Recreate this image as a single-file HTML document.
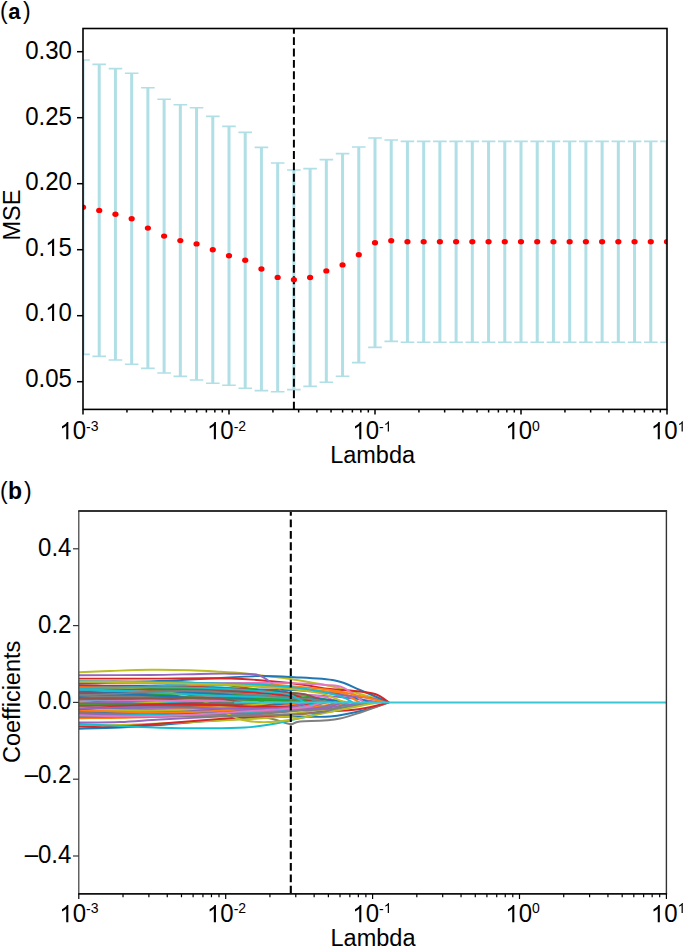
<!DOCTYPE html>
<html><head><meta charset="utf-8"><title>LASSO</title><style>
html,body{margin:0;padding:0;background:#fff;}
body{width:685px;height:948px;overflow:hidden;}
svg{display:block;}
text{font-family:"Liberation Sans", sans-serif;fill:#000;}
</style></head><body>
<svg width="685" height="948" viewBox="0 0 685 948">
<rect width="685" height="948" fill="#fff"/>
<defs><clipPath id="ca"><rect x="83.0" y="28.5" width="584.0" height="380.9"/></clipPath>
<clipPath id="cb"><rect x="78.8" y="511.0" width="587.6" height="382.9"/></clipPath></defs>
<g clip-path="url(#ca)">
<path d="M83.00 60.00V354.40" stroke="#b0dfe6" stroke-width="3.0" fill="none"/>
<path d="M76.20 60.00H89.80M76.20 354.40H89.80" stroke="#b0dfe6" stroke-width="1.6" fill="none"/>
<path d="M99.22 64.40V356.40" stroke="#b0dfe6" stroke-width="3.0" fill="none"/>
<path d="M92.42 64.40H106.02M92.42 356.40H106.02" stroke="#b0dfe6" stroke-width="1.6" fill="none"/>
<path d="M115.44 68.60V360.00" stroke="#b0dfe6" stroke-width="3.0" fill="none"/>
<path d="M108.64 68.60H122.24M108.64 360.00H122.24" stroke="#b0dfe6" stroke-width="1.6" fill="none"/>
<path d="M131.67 73.20V364.20" stroke="#b0dfe6" stroke-width="3.0" fill="none"/>
<path d="M124.87 73.20H138.47M124.87 364.20H138.47" stroke="#b0dfe6" stroke-width="1.6" fill="none"/>
<path d="M147.89 87.80V368.40" stroke="#b0dfe6" stroke-width="3.0" fill="none"/>
<path d="M141.09 87.80H154.69M141.09 368.40H154.69" stroke="#b0dfe6" stroke-width="1.6" fill="none"/>
<path d="M164.11 99.20V373.00" stroke="#b0dfe6" stroke-width="3.0" fill="none"/>
<path d="M157.31 99.20H170.91M157.31 373.00H170.91" stroke="#b0dfe6" stroke-width="1.6" fill="none"/>
<path d="M180.33 104.80V376.40" stroke="#b0dfe6" stroke-width="3.0" fill="none"/>
<path d="M173.53 104.80H187.13M173.53 376.40H187.13" stroke="#b0dfe6" stroke-width="1.6" fill="none"/>
<path d="M196.56 107.80V380.00" stroke="#b0dfe6" stroke-width="3.0" fill="none"/>
<path d="M189.76 107.80H203.36M189.76 380.00H203.36" stroke="#b0dfe6" stroke-width="1.6" fill="none"/>
<path d="M212.78 116.40V383.20" stroke="#b0dfe6" stroke-width="3.0" fill="none"/>
<path d="M205.98 116.40H219.58M205.98 383.20H219.58" stroke="#b0dfe6" stroke-width="1.6" fill="none"/>
<path d="M229.00 126.40V385.20" stroke="#b0dfe6" stroke-width="3.0" fill="none"/>
<path d="M222.20 126.40H235.80M222.20 385.20H235.80" stroke="#b0dfe6" stroke-width="1.6" fill="none"/>
<path d="M245.22 132.40V388.20" stroke="#b0dfe6" stroke-width="3.0" fill="none"/>
<path d="M238.42 132.40H252.02M238.42 388.20H252.02" stroke="#b0dfe6" stroke-width="1.6" fill="none"/>
<path d="M261.44 147.40V390.60" stroke="#b0dfe6" stroke-width="3.0" fill="none"/>
<path d="M254.64 147.40H268.24M254.64 390.60H268.24" stroke="#b0dfe6" stroke-width="1.6" fill="none"/>
<path d="M277.67 163.00V391.80" stroke="#b0dfe6" stroke-width="3.0" fill="none"/>
<path d="M270.87 163.00H284.47M270.87 391.80H284.47" stroke="#b0dfe6" stroke-width="1.6" fill="none"/>
<path d="M293.89 170.00V389.60" stroke="#b0dfe6" stroke-width="3.0" fill="none"/>
<path d="M287.09 170.00H300.69M287.09 389.60H300.69" stroke="#b0dfe6" stroke-width="1.6" fill="none"/>
<path d="M310.11 168.60V386.40" stroke="#b0dfe6" stroke-width="3.0" fill="none"/>
<path d="M303.31 168.60H316.91M303.31 386.40H316.91" stroke="#b0dfe6" stroke-width="1.6" fill="none"/>
<path d="M326.33 159.60V382.20" stroke="#b0dfe6" stroke-width="3.0" fill="none"/>
<path d="M319.53 159.60H333.13M319.53 382.20H333.13" stroke="#b0dfe6" stroke-width="1.6" fill="none"/>
<path d="M342.56 153.60V376.20" stroke="#b0dfe6" stroke-width="3.0" fill="none"/>
<path d="M335.76 153.60H349.36M335.76 376.20H349.36" stroke="#b0dfe6" stroke-width="1.6" fill="none"/>
<path d="M358.78 147.00V362.60" stroke="#b0dfe6" stroke-width="3.0" fill="none"/>
<path d="M351.98 147.00H365.58M351.98 362.60H365.58" stroke="#b0dfe6" stroke-width="1.6" fill="none"/>
<path d="M375.00 138.00V347.40" stroke="#b0dfe6" stroke-width="3.0" fill="none"/>
<path d="M368.20 138.00H381.80M368.20 347.40H381.80" stroke="#b0dfe6" stroke-width="1.6" fill="none"/>
<path d="M391.22 140.00V341.40" stroke="#b0dfe6" stroke-width="3.0" fill="none"/>
<path d="M384.42 140.00H398.02M384.42 341.40H398.02" stroke="#b0dfe6" stroke-width="1.6" fill="none"/>
<path d="M407.44 141.40V342.20" stroke="#b0dfe6" stroke-width="3.0" fill="none"/>
<path d="M400.64 141.40H414.24M400.64 342.20H414.24" stroke="#b0dfe6" stroke-width="1.6" fill="none"/>
<path d="M423.67 141.40V342.20" stroke="#b0dfe6" stroke-width="3.0" fill="none"/>
<path d="M416.87 141.40H430.47M416.87 342.20H430.47" stroke="#b0dfe6" stroke-width="1.6" fill="none"/>
<path d="M439.89 141.40V342.20" stroke="#b0dfe6" stroke-width="3.0" fill="none"/>
<path d="M433.09 141.40H446.69M433.09 342.20H446.69" stroke="#b0dfe6" stroke-width="1.6" fill="none"/>
<path d="M456.11 141.40V342.20" stroke="#b0dfe6" stroke-width="3.0" fill="none"/>
<path d="M449.31 141.40H462.91M449.31 342.20H462.91" stroke="#b0dfe6" stroke-width="1.6" fill="none"/>
<path d="M472.33 141.40V342.20" stroke="#b0dfe6" stroke-width="3.0" fill="none"/>
<path d="M465.53 141.40H479.13M465.53 342.20H479.13" stroke="#b0dfe6" stroke-width="1.6" fill="none"/>
<path d="M488.56 141.40V342.20" stroke="#b0dfe6" stroke-width="3.0" fill="none"/>
<path d="M481.76 141.40H495.36M481.76 342.20H495.36" stroke="#b0dfe6" stroke-width="1.6" fill="none"/>
<path d="M504.78 141.40V342.20" stroke="#b0dfe6" stroke-width="3.0" fill="none"/>
<path d="M497.98 141.40H511.58M497.98 342.20H511.58" stroke="#b0dfe6" stroke-width="1.6" fill="none"/>
<path d="M521.00 141.40V342.20" stroke="#b0dfe6" stroke-width="3.0" fill="none"/>
<path d="M514.20 141.40H527.80M514.20 342.20H527.80" stroke="#b0dfe6" stroke-width="1.6" fill="none"/>
<path d="M537.22 141.40V342.20" stroke="#b0dfe6" stroke-width="3.0" fill="none"/>
<path d="M530.42 141.40H544.02M530.42 342.20H544.02" stroke="#b0dfe6" stroke-width="1.6" fill="none"/>
<path d="M553.44 141.40V342.20" stroke="#b0dfe6" stroke-width="3.0" fill="none"/>
<path d="M546.64 141.40H560.24M546.64 342.20H560.24" stroke="#b0dfe6" stroke-width="1.6" fill="none"/>
<path d="M569.67 141.40V342.20" stroke="#b0dfe6" stroke-width="3.0" fill="none"/>
<path d="M562.87 141.40H576.47M562.87 342.20H576.47" stroke="#b0dfe6" stroke-width="1.6" fill="none"/>
<path d="M585.89 141.40V342.20" stroke="#b0dfe6" stroke-width="3.0" fill="none"/>
<path d="M579.09 141.40H592.69M579.09 342.20H592.69" stroke="#b0dfe6" stroke-width="1.6" fill="none"/>
<path d="M602.11 141.40V342.20" stroke="#b0dfe6" stroke-width="3.0" fill="none"/>
<path d="M595.31 141.40H608.91M595.31 342.20H608.91" stroke="#b0dfe6" stroke-width="1.6" fill="none"/>
<path d="M618.33 141.40V342.20" stroke="#b0dfe6" stroke-width="3.0" fill="none"/>
<path d="M611.53 141.40H625.13M611.53 342.20H625.13" stroke="#b0dfe6" stroke-width="1.6" fill="none"/>
<path d="M634.56 141.40V342.20" stroke="#b0dfe6" stroke-width="3.0" fill="none"/>
<path d="M627.76 141.40H641.36M627.76 342.20H641.36" stroke="#b0dfe6" stroke-width="1.6" fill="none"/>
<path d="M650.78 141.40V342.20" stroke="#b0dfe6" stroke-width="3.0" fill="none"/>
<path d="M643.98 141.40H657.58M643.98 342.20H657.58" stroke="#b0dfe6" stroke-width="1.6" fill="none"/>
<path d="M667.00 141.40V342.20" stroke="#b0dfe6" stroke-width="3.0" fill="none"/>
<path d="M660.20 141.40H673.80M660.20 342.20H673.80" stroke="#b0dfe6" stroke-width="1.6" fill="none"/>
<path d="M293.9 28.5V409.4" stroke="#000" stroke-width="2" stroke-dasharray="7.9 3.49" stroke-dashoffset="2.74" fill="none"/>
<ellipse cx="83.00" cy="207.20" rx="3.1" ry="2.7" fill="#ff0000"/>
<ellipse cx="99.22" cy="210.40" rx="3.1" ry="2.7" fill="#ff0000"/>
<ellipse cx="115.44" cy="214.30" rx="3.1" ry="2.7" fill="#ff0000"/>
<ellipse cx="131.67" cy="218.70" rx="3.1" ry="2.7" fill="#ff0000"/>
<ellipse cx="147.89" cy="228.10" rx="3.1" ry="2.7" fill="#ff0000"/>
<ellipse cx="164.11" cy="236.10" rx="3.1" ry="2.7" fill="#ff0000"/>
<ellipse cx="180.33" cy="240.60" rx="3.1" ry="2.7" fill="#ff0000"/>
<ellipse cx="196.56" cy="243.90" rx="3.1" ry="2.7" fill="#ff0000"/>
<ellipse cx="212.78" cy="249.80" rx="3.1" ry="2.7" fill="#ff0000"/>
<ellipse cx="229.00" cy="255.80" rx="3.1" ry="2.7" fill="#ff0000"/>
<ellipse cx="245.22" cy="260.30" rx="3.1" ry="2.7" fill="#ff0000"/>
<ellipse cx="261.44" cy="269.00" rx="3.1" ry="2.7" fill="#ff0000"/>
<ellipse cx="277.67" cy="277.40" rx="3.1" ry="2.7" fill="#ff0000"/>
<ellipse cx="293.89" cy="279.80" rx="3.1" ry="2.7" fill="#ff0000"/>
<ellipse cx="310.11" cy="277.50" rx="3.1" ry="2.7" fill="#ff0000"/>
<ellipse cx="326.33" cy="270.90" rx="3.1" ry="2.7" fill="#ff0000"/>
<ellipse cx="342.56" cy="264.90" rx="3.1" ry="2.7" fill="#ff0000"/>
<ellipse cx="358.78" cy="254.80" rx="3.1" ry="2.7" fill="#ff0000"/>
<ellipse cx="375.00" cy="242.70" rx="3.1" ry="2.7" fill="#ff0000"/>
<ellipse cx="391.22" cy="240.70" rx="3.1" ry="2.7" fill="#ff0000"/>
<ellipse cx="407.44" cy="241.80" rx="3.1" ry="2.7" fill="#ff0000"/>
<ellipse cx="423.67" cy="241.80" rx="3.1" ry="2.7" fill="#ff0000"/>
<ellipse cx="439.89" cy="241.80" rx="3.1" ry="2.7" fill="#ff0000"/>
<ellipse cx="456.11" cy="241.80" rx="3.1" ry="2.7" fill="#ff0000"/>
<ellipse cx="472.33" cy="241.80" rx="3.1" ry="2.7" fill="#ff0000"/>
<ellipse cx="488.56" cy="241.80" rx="3.1" ry="2.7" fill="#ff0000"/>
<ellipse cx="504.78" cy="241.80" rx="3.1" ry="2.7" fill="#ff0000"/>
<ellipse cx="521.00" cy="241.80" rx="3.1" ry="2.7" fill="#ff0000"/>
<ellipse cx="537.22" cy="241.80" rx="3.1" ry="2.7" fill="#ff0000"/>
<ellipse cx="553.44" cy="241.80" rx="3.1" ry="2.7" fill="#ff0000"/>
<ellipse cx="569.67" cy="241.80" rx="3.1" ry="2.7" fill="#ff0000"/>
<ellipse cx="585.89" cy="241.80" rx="3.1" ry="2.7" fill="#ff0000"/>
<ellipse cx="602.11" cy="241.80" rx="3.1" ry="2.7" fill="#ff0000"/>
<ellipse cx="618.33" cy="241.80" rx="3.1" ry="2.7" fill="#ff0000"/>
<ellipse cx="634.56" cy="241.80" rx="3.1" ry="2.7" fill="#ff0000"/>
<ellipse cx="650.78" cy="241.80" rx="3.1" ry="2.7" fill="#ff0000"/>
<ellipse cx="667.00" cy="241.80" rx="3.1" ry="2.7" fill="#ff0000"/>
</g>
<rect x="83.0" y="28.5" width="584.0" height="380.9" fill="none" stroke="#000" stroke-width="1.6"/>
<path d="M77 51.70H83.0" stroke="#000" stroke-width="1.5"/>
<text transform="translate(25.19 59) scale(1 1.04)" font-size="24">0.30</text>
<path d="M77 117.70H83.0" stroke="#000" stroke-width="1.5"/>
<text transform="translate(25.19 125) scale(1 1.04)" font-size="24">0.25</text>
<path d="M77 183.70H83.0" stroke="#000" stroke-width="1.5"/>
<text transform="translate(25.19 190) scale(1 1.04)" font-size="24">0.20</text>
<path d="M77 249.70H83.0" stroke="#000" stroke-width="1.5"/>
<text transform="translate(25.19 256) scale(1 1.04)" font-size="24">0.</text>
<path d="M763 0L583 0L583 1147Q518 1085 412.5 1023Q307 961 223 930L223 1104Q374 1175 487 1276Q600 1377 647 1472L763 1472Z" transform="translate(45.20 256) scale(0.011719 -0.011719)"/>
<text transform="translate(58.55 256) scale(1 1.04)" font-size="24">5</text>
<path d="M77 315.70H83.0" stroke="#000" stroke-width="1.5"/>
<text transform="translate(25.19 321) scale(1 1.04)" font-size="24">0.</text>
<path d="M763 0L583 0L583 1147Q518 1085 412.5 1023Q307 961 223 930L223 1104Q374 1175 487 1276Q600 1377 647 1472L763 1472Z" transform="translate(45.20 321) scale(0.011719 -0.011719)"/>
<text transform="translate(58.55 321) scale(1 1.04)" font-size="24">0</text>
<path d="M77 381.70H83.0" stroke="#000" stroke-width="1.5"/>
<text transform="translate(25.19 387) scale(1 1.04)" font-size="24">0.05</text>
<path d="M83.00 409.4v5.2M126.95 409.4v3.0M152.66 409.4v3.0M170.90 409.4v3.0M185.05 409.4v3.0M196.61 409.4v3.0M206.38 409.4v3.0M214.85 409.4v3.0M222.32 409.4v3.0M229.00 409.4v5.2M272.95 409.4v3.0M298.66 409.4v3.0M316.90 409.4v3.0M331.05 409.4v3.0M342.61 409.4v3.0M352.38 409.4v3.0M360.85 409.4v3.0M368.32 409.4v3.0M375.00 409.4v5.2M418.95 409.4v3.0M444.66 409.4v3.0M462.90 409.4v3.0M477.05 409.4v3.0M488.61 409.4v3.0M498.38 409.4v3.0M506.85 409.4v3.0M514.32 409.4v3.0M521.00 409.4v5.2M564.95 409.4v3.0M590.66 409.4v3.0M608.90 409.4v3.0M623.05 409.4v3.0M634.61 409.4v3.0M644.38 409.4v3.0M652.85 409.4v3.0M660.32 409.4v3.0M667.00 409.4v5.2" stroke="#000" stroke-width="1.5" fill="none"/>
<path d="M763 0L583 0L583 1147Q518 1085 412.5 1023Q307 961 223 930L223 1104Q374 1175 487 1276Q600 1377 647 1472L763 1472Z" transform="translate(59.40 439.3) scale(0.011719 -0.011719)"/>
<text transform="translate(72.75 439.3) scale(1 1.04)" font-size="24">0</text>
<text x="86.09" y="432.4" font-size="14">-</text>
<text transform="translate(90.75 431.4) scale(1 1.04)" font-size="14">3</text>
<path d="M763 0L583 0L583 1147Q518 1085 412.5 1023Q307 961 223 930L223 1104Q374 1175 487 1276Q600 1377 647 1472L763 1472Z" transform="translate(207.00 439.3) scale(0.011719 -0.011719)"/>
<text transform="translate(220.35 439.3) scale(1 1.04)" font-size="24">0</text>
<text x="233.69" y="432.4" font-size="14">-</text>
<text transform="translate(238.35 431.4) scale(1 1.04)" font-size="14">2</text>
<path d="M763 0L583 0L583 1147Q518 1085 412.5 1023Q307 961 223 930L223 1104Q374 1175 487 1276Q600 1377 647 1472L763 1472Z" transform="translate(352.40 439.3) scale(0.011719 -0.011719)"/>
<text transform="translate(365.75 439.3) scale(1 1.04)" font-size="24">0</text>
<text x="379.09" y="432.4" font-size="14">-</text>
<path d="M763 0L583 0L583 1147Q518 1085 412.5 1023Q307 961 223 930L223 1104Q374 1175 487 1276Q600 1377 647 1472L763 1472Z" transform="translate(383.75 431.4) scale(0.006836 -0.006836)"/>
<path d="M763 0L583 0L583 1147Q518 1085 412.5 1023Q307 961 223 930L223 1104Q374 1175 487 1276Q600 1377 647 1472L763 1472Z" transform="translate(505.40 439.3) scale(0.011719 -0.011719)"/>
<text transform="translate(518.75 439.3) scale(1 1.04)" font-size="24">0</text>
<text transform="translate(532.09 431.4) scale(1 1.04)" font-size="14">0</text>
<path d="M763 0L583 0L583 1147Q518 1085 412.5 1023Q307 961 223 930L223 1104Q374 1175 487 1276Q600 1377 647 1472L763 1472Z" transform="translate(650.90 439.3) scale(0.011719 -0.011719)"/>
<text transform="translate(664.25 439.3) scale(1 1.04)" font-size="24">0</text>
<path d="M763 0L583 0L583 1147Q518 1085 412.5 1023Q307 961 223 930L223 1104Q374 1175 487 1276Q600 1377 647 1472L763 1472Z" transform="translate(677.59 431.4) scale(0.006836 -0.006836)"/>
<text x="372.6" y="463" font-size="23.5" text-anchor="middle">Lambda</text>
<text transform="translate(20.1 215.0) rotate(-90)" x="0" y="0" font-size="23.5" text-anchor="middle">MSE</text>
<text x="0.07" y="19" font-size="23">(</text><text x="8.16" y="19" font-size="22" font-weight="bold">a</text><text x="22.96" y="19" font-size="23">)</text>
<g clip-path="url(#cb)" stroke-linejoin="round" stroke-linecap="butt" stroke-width="1.9" fill="none">
<path d="M79.0 728.8C85.8 728.6 106.5 728.1 120.0 727.5C133.5 726.9 146.7 726.0 160.0 725.0C173.3 724.0 186.7 722.5 200.0 721.5C213.3 720.5 225.0 719.8 240.0 719.0C255.0 718.2 275.0 716.9 290.0 716.5C305.0 716.1 317.5 717.6 330.0 716.5C342.5 715.4 355.2 712.4 365.0 710.0C374.8 707.6 385.0 703.7 389.0 702.4" stroke="#1f77b4"/><path d="M78.8 708.4C81.7 708.3 90.6 708.2 96.4 708.2C102.3 708.1 108.2 708.0 114.1 708.0C119.9 708.0 125.8 708.0 131.7 708.0C137.6 708.0 143.4 708.0 149.3 708.0C155.2 708.0 161.1 708.0 166.9 708.0C172.8 707.9 178.7 707.9 184.6 707.8C190.4 707.8 196.3 707.7 202.2 707.5C208.1 707.3 213.9 707.1 219.8 706.9C225.7 706.6 231.5 706.5 237.5 705.8C243.4 705.0 252.4 703.0 255.4 702.4" stroke="#ff7f0e"/><path d="M78.8 687.3C81.7 687.3 90.6 687.3 96.4 687.3C102.3 687.3 108.2 687.4 114.1 687.4C119.9 687.4 125.8 687.4 131.7 687.4C137.6 687.4 143.4 687.5 149.3 687.5C155.2 687.5 161.1 687.5 166.9 687.6C172.8 687.6 178.7 687.6 184.6 687.7C190.4 687.7 196.3 687.8 202.2 687.9C208.1 688.0 213.9 688.1 219.8 688.2C225.7 688.4 231.6 688.6 237.5 688.8C243.3 689.0 249.2 689.2 255.1 689.6C261.0 689.9 266.8 690.3 272.7 690.8C278.6 691.3 284.5 691.8 290.3 692.7C296.2 693.5 302.8 694.2 308.0 695.8C313.1 697.4 318.9 701.3 321.1 702.4" stroke="#2ca02c"/><path d="M78.8 704.2C81.7 704.3 90.6 704.3 96.4 704.4C102.3 704.5 108.2 704.7 114.1 704.9C119.9 705.0 125.8 705.2 131.7 705.2C137.6 705.3 143.4 705.4 149.3 705.3C155.2 705.3 161.1 705.2 166.9 705.0C172.8 704.9 178.7 704.7 184.6 704.5C190.4 704.3 196.3 704.1 202.2 703.9C208.1 703.7 213.3 703.6 219.8 703.4C226.4 703.1 237.8 702.6 241.4 702.4" stroke="#d62728"/><path d="M79.0 689.5C90.8 689.2 124.8 687.9 150.0 688.0C175.2 688.1 206.7 689.0 230.0 690.0C253.3 691.0 271.7 692.8 290.0 694.0C308.3 695.2 325.0 695.6 340.0 697.0C355.0 698.4 373.3 701.5 380.0 702.4" stroke="#9467bd"/><path d="M78.8 710.0C81.7 710.0 90.6 710.1 96.4 710.2C102.3 710.3 108.2 710.4 114.1 710.5C119.9 710.5 125.8 710.6 131.7 710.6C137.6 710.6 143.4 710.6 149.3 710.5C155.2 710.4 161.1 710.2 166.9 710.1C172.8 709.9 178.7 709.6 184.6 709.4C190.4 709.2 196.3 708.9 202.2 708.6C208.1 708.3 213.9 708.0 219.8 707.6C225.7 707.3 231.6 707.0 237.5 706.6C243.3 706.2 248.7 706.0 255.1 705.3C261.5 704.6 272.5 702.9 275.9 702.4" stroke="#8c564b"/><path d="M78.8 704.1C81.7 704.1 90.6 704.2 96.4 704.2C102.3 704.3 108.2 704.4 114.1 704.5C119.9 704.6 125.8 704.8 131.7 704.9C137.6 704.9 143.4 705.0 149.3 705.0C155.2 705.0 161.1 704.9 166.9 704.8C172.8 704.7 178.7 704.6 184.6 704.4C190.4 704.2 196.3 704.0 202.2 703.8C208.1 703.6 213.5 703.4 219.8 703.2C226.1 702.9 236.5 702.5 239.9 702.4" stroke="#e377c2"/><path d="M78.8 692.8C81.7 692.8 90.6 692.9 96.4 693.0C102.3 693.0 108.2 693.0 114.1 693.1C119.9 693.1 125.8 693.1 131.7 693.2C137.6 693.2 143.4 693.3 149.3 693.3C155.2 693.3 161.1 693.4 166.9 693.4C172.8 693.5 178.7 693.5 184.6 693.6C190.4 693.7 196.3 693.7 202.2 693.8C208.1 693.9 213.9 694.0 219.8 694.2C225.7 694.4 231.6 694.5 237.5 694.8C243.3 695.0 249.2 695.3 255.1 695.8C261.0 696.3 268.3 696.7 272.7 697.8C277.1 698.9 280.1 701.6 281.5 702.4" stroke="#7f7f7f"/><path d="M79.0 707.2C90.8 707.0 124.8 706.5 150.0 706.0C175.2 705.5 206.7 705.5 230.0 704.0C253.3 702.5 273.3 697.7 290.0 697.0C306.7 696.3 320.0 699.1 330.0 700.0C340.0 700.9 346.7 702.0 350.0 702.4" stroke="#bcbd22"/><path d="M78.8 702.7C81.7 703.0 90.6 703.8 96.4 704.3C102.3 704.7 108.2 705.2 114.1 705.5C119.9 705.8 125.8 706.0 131.7 706.0C137.6 706.1 143.4 706.0 149.3 705.8C155.2 705.6 161.1 705.3 166.9 704.9C172.8 704.6 178.7 704.1 184.6 703.6C190.4 703.2 196.3 702.7 202.2 702.3C208.1 701.9 213.9 701.6 219.8 701.4C225.7 701.2 231.3 701.1 237.5 701.2C243.6 701.4 253.6 702.2 256.9 702.4" stroke="#17becf"/><path d="M79.0 695.6C90.8 695.3 124.8 694.9 150.0 694.0C175.2 693.1 206.7 690.7 230.0 690.0C253.3 689.3 271.7 689.3 290.0 690.0C308.3 690.7 326.7 691.9 340.0 694.0C353.3 696.1 365.0 701.0 370.0 702.4" stroke="#1f77b4"/><path d="M78.8 712.4C81.7 712.3 90.6 712.0 96.4 711.7C102.3 711.5 108.2 711.2 114.1 710.9C119.9 710.6 125.8 710.2 131.7 709.9C137.6 709.5 143.4 709.1 149.3 708.8C155.2 708.4 161.1 708.1 166.9 707.8C172.8 707.4 178.7 707.1 184.6 706.9C190.4 706.6 196.3 706.4 202.2 706.2C208.1 706.0 213.9 705.8 219.8 705.7C225.7 705.6 231.6 705.5 237.5 705.4C243.3 705.3 249.0 705.5 255.1 705.0C261.1 704.5 270.7 702.8 273.8 702.4" stroke="#ff7f0e"/><path d="M78.8 687.7C81.7 687.7 90.6 687.6 96.4 687.5C102.3 687.4 108.2 687.4 114.1 687.3C119.9 687.3 125.8 687.2 131.7 687.2C137.6 687.2 143.4 687.3 149.3 687.3C155.2 687.4 161.1 687.4 166.9 687.6C172.8 687.7 178.7 687.8 184.6 688.0C190.4 688.2 196.3 688.4 202.2 688.6C208.1 688.8 213.9 689.1 219.8 689.3C225.7 689.6 231.6 689.9 237.5 690.2C243.3 690.5 249.2 690.9 255.1 691.2C261.0 691.6 266.8 692.0 272.7 692.5C278.6 692.9 284.5 693.4 290.3 694.0C296.2 694.6 302.1 695.2 308.0 696.1C313.8 697.0 321.2 698.4 325.6 699.4C330.0 700.5 332.8 701.9 334.2 702.4" stroke="#2ca02c"/><path d="M78.8 702.8C81.7 702.8 90.6 702.8 96.4 702.8C102.3 702.8 108.2 702.7 114.1 702.7C119.9 702.7 125.8 702.7 131.7 702.7C137.6 702.7 143.4 702.7 149.3 702.7C155.2 702.6 161.1 702.6 166.9 702.6C172.8 702.6 178.7 702.6 184.6 702.6C190.4 702.6 196.3 702.6 202.2 702.6C208.1 702.6 213.9 702.6 219.8 702.6C225.7 702.6 230.6 702.7 237.5 702.6C244.3 702.6 257.2 702.4 261.2 702.4" stroke="#d62728"/><path d="M78.8 706.4C81.7 706.4 90.6 706.5 96.4 706.6C102.3 706.7 108.2 706.8 114.1 706.9C119.9 707.1 125.8 707.2 131.7 707.3C137.6 707.5 143.4 707.6 149.3 707.7C155.2 707.8 161.1 707.9 166.9 708.0C172.8 708.0 178.7 708.1 184.6 708.0C190.4 708.0 196.3 707.9 202.2 707.8C208.1 707.6 213.9 707.4 219.8 707.1C225.7 706.8 230.7 706.6 237.5 705.8C244.2 705.1 256.4 703.0 260.1 702.4" stroke="#9467bd"/><path d="M78.8 707.0C81.7 706.9 90.6 706.5 96.4 706.2C102.3 705.8 108.2 705.4 114.1 705.1C119.9 704.8 125.8 704.4 131.7 704.2C137.6 703.9 143.4 703.7 149.3 703.6C155.2 703.5 161.1 703.5 166.9 703.5C172.8 703.6 178.7 703.7 184.6 703.9C190.4 704.0 196.3 704.3 202.2 704.4C208.1 704.6 213.9 704.8 219.8 704.7C225.7 704.7 232.9 704.7 237.5 704.3C242.0 703.9 245.3 702.7 246.8 702.4" stroke="#8c564b"/><path d="M78.8 691.0C81.7 691.0 90.6 691.0 96.4 691.0C102.3 691.0 108.2 691.0 114.1 691.0C119.9 691.1 125.8 691.1 131.7 691.1C137.6 691.1 143.4 691.1 149.3 691.2C155.2 691.2 161.1 691.2 166.9 691.3C172.8 691.3 178.7 691.4 184.6 691.4C190.4 691.5 196.3 691.5 202.2 691.6C208.1 691.7 213.9 691.7 219.8 691.8C225.7 691.9 231.6 692.0 237.5 692.1C243.3 692.2 249.2 692.3 255.1 692.5C261.0 692.6 266.8 692.8 272.7 693.0C278.6 693.3 284.5 693.5 290.3 693.8C296.2 694.1 302.1 694.5 308.0 695.0C313.8 695.6 320.6 695.9 325.6 697.1C330.5 698.4 335.6 701.5 337.6 702.4" stroke="#e377c2"/><path d="M79.0 717.0C95.8 716.9 153.2 716.3 180.0 716.2C206.8 716.1 225.3 716.2 240.0 716.5C254.7 716.8 259.7 716.8 268.0 718.0C276.3 719.2 284.7 723.4 290.0 724.0C295.3 724.6 291.7 722.4 300.0 721.5C308.3 720.6 325.2 721.7 340.0 718.5C354.8 715.3 380.8 705.1 389.0 702.4" stroke="#7f7f7f"/><path d="M79.0 725.3C85.8 725.2 106.5 725.3 120.0 725.0C133.5 724.7 146.7 724.1 160.0 723.5C173.3 722.9 186.8 722.2 200.0 721.5C213.2 720.8 224.0 720.4 239.0 719.5C254.0 718.6 273.2 717.9 290.0 716.0C306.8 714.1 326.7 710.3 340.0 708.0C353.3 705.7 365.0 703.3 370.0 702.4" stroke="#bcbd22"/><path d="M78.8 683.0C81.7 683.0 90.6 682.8 96.4 682.8C102.3 682.7 108.2 682.7 114.1 682.8C119.9 682.8 125.8 682.9 131.7 683.0C137.6 683.1 143.4 683.2 149.3 683.4C155.2 683.6 161.1 683.8 166.9 684.1C172.8 684.4 178.7 684.7 184.6 685.0C190.4 685.3 196.3 685.7 202.2 686.1C208.1 686.4 213.9 686.9 219.8 687.3C225.7 687.7 231.6 688.2 237.5 688.7C243.3 689.2 249.2 689.7 255.1 690.3C261.0 690.9 266.8 691.5 272.7 692.3C278.6 693.2 285.1 693.7 290.3 695.4C295.6 697.0 302.1 701.2 304.4 702.4" stroke="#17becf"/><path d="M79.0 691.4C90.8 691.7 124.8 692.4 150.0 693.0C175.2 693.6 206.7 694.3 230.0 695.0C253.3 695.7 273.3 696.2 290.0 697.0C306.7 697.8 320.8 699.1 330.0 700.0C339.2 700.9 342.5 702.0 345.0 702.4" stroke="#1f77b4"/><path d="M78.8 713.3C81.7 713.4 90.6 713.6 96.4 713.7C102.3 713.8 108.2 713.9 114.1 714.0C119.9 714.1 125.8 714.1 131.7 714.2C137.6 714.2 143.4 714.2 149.3 714.2C155.2 714.2 161.1 714.2 166.9 714.1C172.8 714.1 178.7 714.0 184.6 713.9C190.4 713.8 196.3 713.7 202.2 713.5C208.1 713.4 213.9 713.2 219.8 713.0C225.7 712.8 231.6 712.6 237.5 712.3C243.3 712.1 249.2 711.8 255.1 711.5C261.0 711.2 266.8 710.8 272.7 710.5C278.6 710.1 284.5 709.7 290.3 709.2C296.2 708.8 302.1 708.3 308.0 707.7C313.8 707.2 320.1 706.7 325.6 705.8C331.1 704.9 338.6 703.0 341.2 702.4" stroke="#ff7f0e"/><path d="M78.8 682.3C81.7 682.3 90.6 682.1 96.4 682.0C102.3 681.9 108.2 681.8 114.1 681.7C119.9 681.7 125.8 681.6 131.7 681.6C137.6 681.6 143.4 681.6 149.3 681.6C155.2 681.7 161.1 681.7 166.9 681.8C172.8 682.0 178.7 682.1 184.6 682.4C190.4 682.6 196.3 682.9 202.2 683.2C208.1 683.6 213.9 684.0 219.8 684.6C225.7 685.1 231.6 685.8 237.5 686.6C243.3 687.3 249.2 688.2 255.1 689.3C261.0 690.5 266.1 691.1 272.7 693.3C279.3 695.5 291.0 700.9 294.7 702.4" stroke="#2ca02c"/><path d="M79.0 726.6C84.2 726.7 98.2 727.4 110.0 727.0C121.8 726.6 135.0 725.6 150.0 724.5C165.0 723.4 185.0 721.7 200.0 720.5C215.0 719.3 225.0 718.5 240.0 717.5C255.0 716.5 275.0 715.5 290.0 714.5C305.0 713.5 318.3 712.4 330.0 711.5C341.7 710.6 350.2 710.5 360.0 709.0C369.8 707.5 384.2 703.5 389.0 702.4" stroke="#d62728"/><path d="M78.8 704.0C81.7 703.9 90.6 703.8 96.4 703.7C102.3 703.6 108.2 703.5 114.1 703.4C119.9 703.3 125.8 703.3 131.7 703.2C137.6 703.1 143.4 703.1 149.3 703.0C155.2 703.0 161.1 702.9 166.9 702.9C172.8 702.9 178.7 702.8 184.6 702.8C190.4 702.8 196.3 702.8 202.2 702.8C208.1 702.8 213.9 702.8 219.8 702.8C225.7 702.9 231.6 702.9 237.5 702.9C243.3 702.8 249.6 702.8 255.1 702.8C260.5 702.7 267.5 702.5 270.0 702.4" stroke="#9467bd"/><path d="M79.0 693.6C90.8 693.8 124.8 694.4 150.0 695.0C175.2 695.6 206.7 696.5 230.0 697.0C253.3 697.5 275.0 697.1 290.0 698.0C305.0 698.9 315.0 701.7 320.0 702.4" stroke="#8c564b"/><path d="M78.8 700.8C81.7 700.8 90.6 700.9 96.4 700.8C102.3 700.7 108.2 700.6 114.1 700.3C119.9 700.1 125.8 699.7 131.7 699.4C137.6 699.0 143.4 698.6 149.3 698.3C155.2 698.0 161.1 697.6 166.9 697.4C172.8 697.2 178.7 697.0 184.6 696.9C190.4 696.8 196.3 696.9 202.2 697.0C208.1 697.2 213.9 697.4 219.8 697.7C225.7 698.1 231.6 698.5 237.5 698.9C243.3 699.3 249.2 699.8 255.1 700.2C261.0 700.6 266.8 701.0 272.7 701.4C278.7 701.7 287.8 702.2 290.8 702.4" stroke="#e377c2"/><path d="M78.8 714.1C81.7 713.9 90.6 713.5 96.4 713.1C102.3 712.8 108.2 712.4 114.1 712.0C119.9 711.6 125.8 711.2 131.7 710.8C137.6 710.4 143.4 710.1 149.3 709.7C155.2 709.4 161.1 709.1 166.9 708.9C172.8 708.6 178.7 708.4 184.6 708.2C190.4 708.1 196.3 708.0 202.2 707.9C208.1 707.8 213.9 707.8 219.8 707.8C225.7 707.8 231.6 707.8 237.5 707.7C243.3 707.7 249.2 707.7 255.1 707.5C261.0 707.3 266.3 707.4 272.7 706.5C279.1 705.7 289.9 703.1 293.3 702.4" stroke="#7f7f7f"/><path d="M79.0 672.2C84.2 672.0 98.2 671.4 110.0 671.0C121.8 670.6 136.7 669.9 150.0 669.8C163.3 669.7 178.3 669.9 190.0 670.2C201.7 670.5 210.8 671.2 220.0 671.8C229.2 672.3 237.5 672.8 245.0 673.5C252.5 674.2 257.5 675.1 265.0 676.0C272.5 676.9 279.2 677.3 290.0 679.0C300.8 680.7 318.3 683.5 330.0 686.0C341.7 688.5 350.2 691.3 360.0 694.0C369.8 696.7 384.2 701.0 389.0 702.4" stroke="#bcbd22"/><path d="M78.8 709.6C81.7 709.8 90.6 710.1 96.4 710.3C102.3 710.5 108.2 710.8 114.1 711.0C119.9 711.2 125.8 711.5 131.7 711.7C137.6 711.9 143.4 712.1 149.3 712.2C155.2 712.4 161.1 712.5 166.9 712.5C172.8 712.6 178.7 712.6 184.6 712.5C190.4 712.5 196.3 712.4 202.2 712.2C208.1 712.0 213.9 711.8 219.8 711.5C225.7 711.2 231.6 710.9 237.5 710.5C243.3 710.2 249.2 709.8 255.1 709.4C261.0 708.9 266.8 708.5 272.7 708.0C278.6 707.6 284.5 707.1 290.3 706.6C296.2 706.0 303.1 705.5 308.0 704.8C312.8 704.1 317.6 702.8 319.6 702.4" stroke="#17becf"/><path d="M79.0 683.8C90.8 683.4 129.8 682.3 150.0 681.5C170.2 680.7 186.7 679.7 200.0 679.0C213.3 678.3 220.0 678.0 230.0 677.5C240.0 677.0 250.0 676.1 260.0 676.0C270.0 675.9 277.5 676.2 290.0 677.0C302.5 677.8 323.3 678.3 335.0 680.5C346.7 682.7 351.0 686.4 360.0 690.0C369.0 693.6 384.2 700.3 389.0 702.4" stroke="#1f77b4"/><path d="M78.8 703.0C81.7 702.7 90.6 701.8 96.4 701.1C102.3 700.5 108.2 699.8 114.1 699.3C119.9 698.8 125.8 698.3 131.7 698.1C137.6 698.0 143.4 698.0 149.3 698.3C155.2 698.5 161.1 699.0 166.9 699.5C172.8 700.0 178.7 700.7 184.6 701.2C190.4 701.7 196.3 702.3 202.2 702.6C208.1 702.9 214.5 703.0 219.8 703.0C225.2 702.9 231.8 702.5 234.2 702.4" stroke="#ff7f0e"/><path d="M78.8 695.0C81.7 695.0 90.6 694.9 96.4 694.8C102.3 694.8 108.2 694.7 114.1 694.6C119.9 694.6 125.8 694.5 131.7 694.4C137.6 694.4 143.4 694.3 149.3 694.2C155.2 694.2 161.1 694.1 166.9 694.0C172.8 694.0 178.7 694.0 184.6 693.9C190.4 693.9 196.3 693.9 202.2 693.9C208.1 694.0 213.9 694.0 219.8 694.1C225.7 694.2 231.6 694.3 237.5 694.5C243.3 694.6 249.2 694.8 255.1 695.1C261.0 695.4 266.8 695.7 272.7 696.1C278.6 696.6 284.2 696.8 290.3 697.8C296.5 698.9 306.5 701.6 309.8 702.4" stroke="#2ca02c"/><path d="M79.0 678.6C90.8 678.6 124.8 678.6 150.0 678.6C175.2 678.6 206.7 677.8 230.0 678.5C253.3 679.2 273.3 681.2 290.0 683.0C306.7 684.8 320.0 687.8 330.0 689.0C340.0 690.2 342.5 689.7 350.0 690.5C357.5 691.3 368.5 692.0 375.0 694.0C381.5 696.0 386.7 701.0 389.0 702.4" stroke="#d62728"/><path d="M78.8 708.0C81.7 708.0 90.6 708.0 96.4 708.1C102.3 708.2 108.2 708.4 114.1 708.5C119.9 708.7 125.8 709.0 131.7 709.2C137.6 709.4 143.4 709.6 149.3 709.7C155.2 709.8 161.1 709.9 166.9 709.8C172.8 709.7 178.7 709.5 184.6 709.2C190.4 708.9 196.3 708.5 202.2 708.1C208.1 707.6 213.9 707.1 219.8 706.5C225.7 705.9 232.9 705.1 237.5 704.4C242.0 703.8 245.7 702.7 247.3 702.4" stroke="#9467bd"/><path d="M78.8 699.0C81.7 699.0 90.6 698.8 96.4 698.8C102.3 698.7 108.2 698.6 114.1 698.6C119.9 698.5 125.8 698.5 131.7 698.5C137.6 698.5 143.4 698.5 149.3 698.5C155.2 698.5 161.1 698.5 166.9 698.6C172.8 698.7 178.7 698.7 184.6 698.8C190.4 698.9 196.3 699.1 202.2 699.2C208.1 699.3 213.9 699.5 219.8 699.6C225.7 699.8 231.6 700.0 237.5 700.2C243.3 700.4 249.2 700.6 255.1 700.8C261.0 701.0 267.4 701.3 272.7 701.5C278.0 701.8 284.5 702.3 286.8 702.4" stroke="#8c564b"/><path d="M78.8 705.5C81.7 705.6 90.6 705.9 96.4 705.9C102.3 706.0 108.2 705.9 114.1 705.7C119.9 705.6 125.8 705.3 131.7 705.0C137.6 704.7 143.4 704.2 149.3 703.8C155.2 703.4 161.1 702.9 166.9 702.5C172.8 702.2 178.7 701.7 184.6 701.4C190.4 701.1 196.3 700.9 202.2 700.8C208.1 700.6 213.9 700.6 219.8 700.7C225.7 700.7 232.0 700.9 237.5 701.2C242.9 701.5 250.0 702.2 252.5 702.4" stroke="#e377c2"/><path d="M78.8 713.2C81.7 713.3 90.6 713.4 96.4 713.5C102.3 713.5 108.2 713.6 114.1 713.7C119.9 713.7 125.8 713.7 131.7 713.7C137.6 713.7 143.4 713.7 149.3 713.6C155.2 713.5 161.1 713.3 166.9 713.2C172.8 713.0 178.7 712.8 184.6 712.6C190.4 712.3 196.3 712.1 202.2 711.8C208.1 711.5 213.9 711.2 219.8 710.8C225.7 710.5 231.6 710.1 237.5 709.7C243.3 709.3 249.2 708.9 255.1 708.4C261.0 707.8 267.1 707.4 272.7 706.4C278.3 705.4 285.9 703.1 288.5 702.4" stroke="#7f7f7f"/><path d="M78.8 714.2C81.7 714.2 90.6 714.3 96.4 714.4C102.3 714.5 108.2 714.5 114.1 714.6C119.9 714.7 125.8 714.8 131.7 714.9C137.6 715.0 143.4 715.1 149.3 715.2C155.2 715.3 161.1 715.4 166.9 715.5C172.8 715.6 178.7 715.7 184.6 715.7C190.4 715.8 196.3 715.9 202.2 715.9C208.1 715.9 213.9 715.9 219.8 715.9C225.7 715.9 231.6 715.9 237.5 715.8C243.3 715.7 249.2 715.6 255.1 715.4C261.0 715.2 266.8 715.0 272.7 714.7C278.6 714.4 284.5 714.0 290.3 713.5C296.2 713.0 302.1 712.5 308.0 711.6C313.8 710.7 320.9 709.7 325.6 708.2C330.3 706.7 334.2 703.4 335.9 702.4" stroke="#bcbd22"/><path d="M79.0 724.0C85.8 724.3 106.5 725.4 120.0 726.0C133.5 726.6 145.0 727.4 160.0 727.8C175.0 728.2 195.8 728.3 210.0 728.3C224.2 728.2 235.0 728.1 245.0 727.5C255.0 726.9 262.5 725.7 270.0 724.5C277.5 723.3 280.0 722.8 290.0 720.5C300.0 718.2 319.2 713.8 330.0 711.0C340.8 708.2 349.2 705.4 355.0 704.0C360.8 702.6 363.3 702.7 365.0 702.4" stroke="#17becf"/><path d="M78.8 698.9C81.7 698.8 90.6 698.5 96.4 698.3C102.3 698.1 108.2 697.8 114.1 697.6C119.9 697.4 125.8 697.2 131.7 697.1C137.6 696.9 143.4 696.8 149.3 696.7C155.2 696.6 161.1 696.5 166.9 696.4C172.8 696.4 178.7 696.4 184.6 696.4C190.4 696.5 196.3 696.6 202.2 696.7C208.1 696.8 213.9 697.0 219.8 697.2C225.7 697.4 231.6 697.6 237.5 697.9C243.3 698.2 249.2 698.5 255.1 698.8C261.0 699.2 266.8 699.5 272.7 699.9C278.6 700.3 285.0 700.7 290.3 701.1C295.7 701.5 302.5 702.2 304.9 702.4" stroke="#1f77b4"/><path d="M79.0 718.3C90.8 718.1 124.8 718.0 150.0 717.0C175.2 716.0 206.7 713.5 230.0 712.0C253.3 710.5 273.3 709.2 290.0 708.0C306.7 706.8 320.0 705.9 330.0 705.0C340.0 704.1 346.7 702.8 350.0 702.4" stroke="#ff7f0e"/><path d="M78.8 686.9C81.7 687.0 90.6 687.2 96.4 687.3C102.3 687.4 108.2 687.5 114.1 687.6C119.9 687.8 125.8 687.9 131.7 688.0C137.6 688.1 143.4 688.2 149.3 688.3C155.2 688.4 161.1 688.5 166.9 688.6C172.8 688.7 178.7 688.7 184.6 688.8C190.4 688.9 196.3 688.9 202.2 689.0C208.1 689.1 213.9 689.1 219.8 689.2C225.7 689.3 231.6 689.5 237.5 689.6C243.3 689.8 249.2 690.0 255.1 690.3C261.0 690.6 266.8 690.9 272.7 691.4C278.6 691.9 283.6 691.5 290.3 693.4C297.1 695.2 309.6 700.9 313.4 702.4" stroke="#2ca02c"/><path d="M79.0 711.5C90.8 711.2 124.8 710.9 150.0 710.0C175.2 709.1 206.7 707.0 230.0 706.0C253.3 705.0 275.0 704.6 290.0 704.0C305.0 703.4 315.0 702.7 320.0 702.4" stroke="#d62728"/><path d="M79.0 675.3C90.8 675.2 129.8 675.2 150.0 675.0C170.2 674.8 186.7 674.2 200.0 674.0C213.3 673.8 220.3 673.5 230.0 673.7C239.7 673.9 250.5 673.0 258.0 675.0C265.5 677.0 269.3 681.9 275.0 686.0C280.7 690.1 287.8 696.8 292.0 699.5C296.2 702.2 298.7 701.9 300.0 702.4" stroke="#9467bd"/><path d="M78.8 698.9C81.7 699.1 90.6 699.5 96.4 699.8C102.3 700.1 108.2 700.4 114.1 700.7C119.9 701.0 125.8 701.3 131.7 701.5C137.6 701.8 143.4 702.0 149.3 702.2C155.2 702.4 161.1 702.6 166.9 702.7C172.8 702.8 178.7 702.9 184.6 702.9C190.4 703.0 196.3 703.0 202.2 702.9C208.1 702.9 213.9 702.8 219.8 702.8C225.7 702.7 231.6 702.6 237.5 702.5C243.3 702.4 250.8 702.3 255.1 702.3C259.4 702.3 261.7 702.4 263.1 702.4" stroke="#8c564b"/><path d="M78.8 681.8C81.7 681.8 90.6 682.1 96.4 682.3C102.3 682.4 108.2 682.6 114.1 682.7C119.9 682.8 125.8 683.0 131.7 683.1C137.6 683.1 143.4 683.2 149.3 683.3C155.2 683.3 161.1 683.4 166.9 683.4C172.8 683.4 178.7 683.4 184.6 683.4C190.4 683.4 196.3 683.3 202.2 683.3C208.1 683.3 213.9 683.2 219.8 683.1C225.7 683.1 231.6 683.0 237.5 683.0C243.3 682.9 249.2 682.9 255.1 682.9C261.0 682.8 266.8 682.8 272.7 682.9C278.6 682.9 284.5 682.9 290.3 683.1C296.2 683.2 302.1 683.4 308.0 683.7C313.8 684.0 319.7 684.4 325.6 685.0C331.5 685.7 336.8 684.7 343.2 687.6C349.7 690.5 360.7 699.9 364.2 702.4" stroke="#e377c2"/><path d="M79.0 709.6C90.8 709.8 124.8 710.4 150.0 711.0C175.2 711.6 206.7 713.0 230.0 713.0C253.3 713.0 271.7 711.8 290.0 711.0C308.3 710.2 326.7 709.4 340.0 708.0C353.3 706.6 365.0 703.3 370.0 702.4" stroke="#7f7f7f"/><path d="M78.8 709.6C81.7 709.4 90.6 708.9 96.4 708.7C102.3 708.4 108.2 708.3 114.1 708.2C119.9 708.1 125.8 708.1 131.7 708.2C137.6 708.3 143.4 708.5 149.3 708.7C155.2 708.9 161.1 709.2 166.9 709.3C172.8 709.5 178.7 709.7 184.6 709.7C190.4 709.8 196.3 709.7 202.2 709.5C208.1 709.3 213.9 709.0 219.8 708.5C225.7 708.1 232.2 707.7 237.5 706.7C242.7 705.7 249.1 703.1 251.5 702.4" stroke="#bcbd22"/><path d="M78.8 689.5C81.7 689.7 90.6 690.2 96.4 690.5C102.3 690.9 108.2 691.2 114.1 691.5C119.9 691.8 125.8 692.1 131.7 692.3C137.6 692.5 143.4 692.6 149.3 692.7C155.2 692.8 161.1 692.7 166.9 692.7C172.8 692.6 178.7 692.5 184.6 692.4C190.4 692.3 196.3 692.1 202.2 692.0C208.1 691.8 213.9 691.7 219.8 691.7C225.7 691.7 231.6 691.6 237.5 691.9C243.3 692.1 249.2 692.2 255.1 692.9C261.0 693.6 268.5 694.4 272.7 696.0C276.9 697.6 278.9 701.3 280.1 702.4" stroke="#17becf"/><path d="M78.8 704.7C81.7 704.7 90.6 704.5 96.4 704.5C102.3 704.6 108.2 704.6 114.1 704.7C119.9 704.8 125.8 705.0 131.7 705.1C137.6 705.3 143.4 705.5 149.3 705.8C155.2 706.0 161.1 706.2 166.9 706.4C172.8 706.6 178.7 706.9 184.6 707.0C190.4 707.2 196.3 707.3 202.2 707.4C208.1 707.5 213.9 707.5 219.8 707.5C225.7 707.4 231.6 707.3 237.5 707.1C243.3 707.0 249.2 706.7 255.1 706.4C261.0 706.0 266.8 705.6 272.7 705.2C278.6 704.7 286.0 704.0 290.3 703.5C294.7 703.1 297.2 702.6 298.6 702.4" stroke="#1f77b4"/><path d="M79.0 715.0C90.8 714.7 124.8 713.8 150.0 713.0C175.2 712.2 206.7 711.2 230.0 710.0C253.3 708.8 273.3 707.3 290.0 706.0C306.7 704.7 323.3 703.0 330.0 702.4" stroke="#ff7f0e"/><path d="M78.8 687.5C81.7 687.5 90.6 687.4 96.4 687.4C102.3 687.4 108.2 687.5 114.1 687.6C119.9 687.7 125.8 687.9 131.7 688.1C137.6 688.3 143.4 688.6 149.3 688.9C155.2 689.2 161.1 689.6 166.9 689.9C172.8 690.3 178.7 690.7 184.6 691.1C190.4 691.5 196.3 691.9 202.2 692.4C208.1 692.8 213.9 693.3 219.8 693.8C225.7 694.2 231.6 694.7 237.5 695.3C243.3 695.8 248.5 695.9 255.1 697.1C261.6 698.3 273.1 701.5 276.7 702.4" stroke="#2ca02c"/><path d="M78.8 693.4C81.7 693.4 90.6 693.4 96.4 693.3C102.3 693.3 108.2 693.2 114.1 693.1C119.9 693.0 125.8 692.8 131.7 692.7C137.6 692.5 143.4 692.4 149.3 692.2C155.2 692.0 161.1 691.9 166.9 691.7C172.8 691.6 178.7 691.4 184.6 691.3C190.4 691.3 196.3 691.2 202.2 691.2C208.1 691.1 213.9 691.2 219.8 691.2C225.7 691.3 231.6 691.5 237.5 691.7C243.3 691.9 249.2 692.2 255.1 692.6C261.0 693.0 266.8 693.4 272.7 694.0C278.6 694.7 283.8 694.8 290.3 696.2C296.9 697.6 308.3 701.4 311.9 702.4" stroke="#d62728"/><path d="M79.0 722.5C85.8 722.4 106.5 722.5 120.0 722.0C133.5 721.5 145.0 720.3 160.0 719.5C175.0 718.7 193.3 717.9 210.0 717.0C226.7 716.1 245.0 715.2 260.0 714.0C275.0 712.8 286.7 711.3 300.0 710.0C313.3 708.7 330.0 707.3 340.0 706.0C350.0 704.7 356.7 703.0 360.0 702.4" stroke="#9467bd"/><path d="M78.8 709.7C81.7 709.7 90.6 709.8 96.4 709.8C102.3 709.7 108.2 709.7 114.1 709.6C119.9 709.6 125.8 709.5 131.7 709.3C137.6 709.2 143.4 709.1 149.3 708.9C155.2 708.7 161.1 708.5 166.9 708.3C172.8 708.1 178.7 707.9 184.6 707.7C190.4 707.4 196.3 707.2 202.2 706.9C208.1 706.7 213.9 706.4 219.8 706.2C225.7 705.9 231.6 705.7 237.5 705.4C243.3 705.2 249.2 705.0 255.1 704.7C261.0 704.5 266.8 704.3 272.7 704.1C278.6 703.9 284.5 703.7 290.3 703.6C296.2 703.4 302.5 703.3 308.0 703.1C313.4 702.9 320.7 702.5 323.2 702.4" stroke="#8c564b"/><path d="M78.8 697.4C81.7 697.5 90.6 697.8 96.4 698.0C102.3 698.1 108.2 698.2 114.1 698.2C119.9 698.3 125.8 698.3 131.7 698.2C137.6 698.1 143.4 698.0 149.3 697.9C155.2 697.8 161.1 697.6 166.9 697.4C172.8 697.3 178.7 697.2 184.6 697.1C190.4 697.0 196.3 696.9 202.2 696.9C208.1 697.0 213.9 697.0 219.8 697.2C225.7 697.3 231.6 697.6 237.5 697.9C243.3 698.2 249.2 698.5 255.1 698.9C261.0 699.3 266.4 699.7 272.7 700.3C279.0 700.8 289.6 702.0 293.0 702.4" stroke="#e377c2"/><path d="M78.8 709.9C81.7 709.9 90.6 709.8 96.4 709.8C102.3 709.8 108.2 709.9 114.1 710.0C119.9 710.2 125.8 710.4 131.7 710.6C137.6 710.8 143.4 711.0 149.3 711.3C155.2 711.5 161.1 711.8 166.9 712.0C172.8 712.3 178.7 712.5 184.6 712.7C190.4 712.9 196.3 713.0 202.2 713.1C208.1 713.1 213.9 713.1 219.8 713.0C225.7 713.0 231.6 712.8 237.5 712.6C243.3 712.4 249.2 712.1 255.1 711.7C261.0 711.3 266.8 710.9 272.7 710.4C278.6 709.9 284.5 709.3 290.3 708.7C296.2 708.1 301.9 707.7 308.0 706.7C314.0 705.6 323.7 703.1 326.8 702.4" stroke="#7f7f7f"/><path d="M78.8 710.6C81.7 710.5 90.6 710.4 96.4 710.2C102.3 710.1 108.2 709.9 114.1 709.8C119.9 709.6 125.8 709.5 131.7 709.4C137.6 709.3 143.4 709.2 149.3 709.2C155.2 709.1 161.1 709.1 166.9 709.1C172.8 709.1 178.7 709.1 184.6 709.2C190.4 709.2 196.3 709.2 202.2 709.2C208.1 709.2 213.9 709.2 219.8 709.1C225.7 709.1 231.6 709.0 237.5 708.8C243.3 708.7 249.2 708.5 255.1 708.2C261.0 707.9 266.8 707.5 272.7 707.0C278.6 706.5 285.0 706.0 290.3 705.3C295.7 704.5 302.6 702.9 305.0 702.4" stroke="#bcbd22"/><path d="M78.8 716.4C81.7 716.3 90.6 716.1 96.4 715.9C102.3 715.7 108.2 715.5 114.1 715.3C119.9 715.1 125.8 714.9 131.7 714.7C137.6 714.6 143.4 714.4 149.3 714.3C155.2 714.2 161.1 714.2 166.9 714.1C172.8 714.1 178.7 714.0 184.6 714.0C190.4 714.0 196.3 714.0 202.2 714.0C208.1 714.0 213.9 713.9 219.8 713.9C225.7 713.8 231.6 713.7 237.5 713.5C243.3 713.3 249.2 713.1 255.1 712.7C261.0 712.4 266.8 711.9 272.7 711.3C278.6 710.7 284.5 710.1 290.3 709.1C296.2 708.2 303.7 706.7 308.0 705.6C312.2 704.4 314.5 702.9 315.8 702.4" stroke="#17becf"/><path d="M78.8 693.7C81.7 693.6 90.6 693.6 96.4 693.5C102.3 693.4 108.2 693.2 114.1 693.1C119.9 692.9 125.8 692.7 131.7 692.5C137.6 692.3 143.4 692.1 149.3 692.0C155.2 691.9 161.1 691.8 166.9 691.8C172.8 691.8 178.7 691.8 184.6 691.9C190.4 692.1 196.3 692.3 202.2 692.7C208.1 693.0 213.9 693.4 219.8 694.0C225.7 694.6 230.4 694.6 237.5 696.0C244.5 697.4 257.8 701.3 261.9 702.4" stroke="#1f77b4"/><path d="M78.8 681.6C81.7 681.6 90.6 681.5 96.4 681.4C102.3 681.4 108.2 681.4 114.1 681.4C119.9 681.4 125.8 681.5 131.7 681.6C137.6 681.6 143.4 681.8 149.3 681.9C155.2 682.0 161.1 682.2 166.9 682.4C172.8 682.6 178.7 682.8 184.6 683.0C190.4 683.3 196.3 683.5 202.2 683.8C208.1 684.1 213.9 684.4 219.8 684.7C225.7 685.0 231.6 685.3 237.5 685.6C243.3 685.9 249.2 686.2 255.1 686.6C261.0 686.9 266.8 687.2 272.7 687.5C278.6 687.9 284.5 688.2 290.3 688.6C296.2 689.0 302.1 689.3 308.0 689.7C313.8 690.2 319.7 690.6 325.6 691.2C331.5 691.8 337.6 691.6 343.2 693.5C348.9 695.4 356.7 700.9 359.4 702.4" stroke="#ff7f0e"/><path d="M78.8 709.5C81.7 709.4 90.6 709.4 96.4 709.3C102.3 709.1 108.2 708.8 114.1 708.5C119.9 708.2 125.8 707.8 131.7 707.5C137.6 707.1 143.4 706.7 149.3 706.5C155.2 706.2 161.1 705.9 166.9 705.8C172.8 705.7 178.7 705.6 184.6 705.7C190.4 705.7 196.3 705.8 202.2 705.9C208.1 706.1 213.9 706.3 219.8 706.3C225.7 706.4 230.6 707.0 237.5 706.3C244.3 705.7 256.9 703.1 260.8 702.4" stroke="#2ca02c"/><path d="M78.8 706.0C81.7 705.8 90.6 705.5 96.4 705.3C102.3 705.1 108.2 704.9 114.1 704.8C119.9 704.6 125.8 704.5 131.7 704.4C137.6 704.4 143.4 704.3 149.3 704.3C155.2 704.3 161.1 704.4 166.9 704.4C172.8 704.5 178.7 704.6 184.6 704.7C190.4 704.8 196.3 704.9 202.2 705.1C208.1 705.2 213.9 705.4 219.8 705.6C225.7 705.7 231.6 705.9 237.5 706.1C243.3 706.2 249.2 706.3 255.1 706.4C261.0 706.5 266.8 706.5 272.7 706.4C278.6 706.4 283.5 706.6 290.3 706.0C297.2 705.3 310.0 703.0 313.9 702.4" stroke="#d62728"/><path d="M79.0 681.4C90.8 681.5 124.8 681.6 150.0 682.0C175.2 682.4 206.7 683.0 230.0 684.0C253.3 685.0 271.7 686.2 290.0 688.0C308.3 689.8 326.7 693.3 340.0 695.0C353.3 696.7 362.5 696.8 370.0 698.0C377.5 699.2 382.5 701.7 385.0 702.4" stroke="#9467bd"/><path d="M78.8 700.1C81.7 700.3 90.6 701.0 96.4 701.3C102.3 701.6 108.2 701.8 114.1 701.9C119.9 702.0 125.8 701.9 131.7 701.8C137.6 701.6 143.4 701.3 149.3 701.0C155.2 700.7 161.1 700.3 166.9 700.0C172.8 699.7 178.7 699.4 184.6 699.2C190.4 699.1 196.3 699.0 202.2 699.1C208.1 699.1 213.9 699.4 219.8 699.6C225.7 699.9 231.2 700.3 237.5 700.8C243.7 701.2 253.8 702.1 257.1 702.4" stroke="#8c564b"/><path d="M78.8 701.3C81.7 701.1 90.6 700.7 96.4 700.4C102.3 700.1 108.2 699.8 114.1 699.5C119.9 699.2 125.8 698.9 131.7 698.7C137.6 698.4 143.4 698.2 149.3 698.0C155.2 697.9 161.1 697.7 166.9 697.7C172.8 697.6 178.7 697.6 184.6 697.7C190.4 697.8 196.3 697.9 202.2 698.1C208.1 698.3 213.9 698.6 219.8 699.0C225.7 699.3 231.6 699.6 237.5 700.2C243.3 700.7 251.9 702.0 254.8 702.4" stroke="#e377c2"/><path d="M78.8 711.9C81.7 711.9 90.6 711.8 96.4 711.8C102.3 711.7 108.2 711.8 114.1 711.8C119.9 711.9 125.8 712.0 131.7 712.1C137.6 712.2 143.4 712.4 149.3 712.5C155.2 712.7 161.1 712.8 166.9 713.0C172.8 713.1 178.7 713.3 184.6 713.5C190.4 713.6 196.3 713.7 202.2 713.8C208.1 713.9 213.9 714.0 219.8 714.0C225.7 714.0 231.6 714.0 237.5 713.9C243.3 713.8 249.2 713.7 255.1 713.4C261.0 713.2 266.8 712.9 272.7 712.6C278.6 712.2 284.5 711.8 290.3 711.2C296.2 710.7 302.1 710.1 308.0 709.3C313.8 708.4 321.0 707.4 325.6 706.3C330.2 705.1 333.7 703.0 335.4 702.4" stroke="#7f7f7f"/><path d="M79.0 688.0C90.8 688.3 129.8 688.0 150.0 690.0C170.2 692.0 185.2 695.2 200.0 700.0C214.8 704.8 227.3 715.3 239.0 719.0C250.7 722.7 259.8 722.2 270.0 722.0C280.2 721.8 290.0 719.7 300.0 718.0C310.0 716.3 320.0 714.0 330.0 712.0C340.0 710.0 351.7 707.6 360.0 706.0C368.3 704.4 376.7 703.0 380.0 702.4" stroke="#bcbd22"/><path d="M78.8 699.2C81.7 699.4 90.6 700.0 96.4 700.3C102.3 700.7 108.2 701.0 114.1 701.3C119.9 701.5 125.8 701.8 131.7 701.9C137.6 702.1 143.4 702.1 149.3 702.1C155.2 702.2 161.1 702.1 166.9 702.0C172.8 701.8 178.7 701.6 184.6 701.4C190.4 701.2 196.3 700.9 202.2 700.6C208.1 700.3 213.9 700.0 219.8 699.7C225.7 699.4 231.6 699.1 237.5 698.9C243.3 698.7 249.2 698.5 255.1 698.5C261.0 698.5 267.7 698.3 272.7 699.0C277.8 699.6 283.3 701.8 285.4 702.4" stroke="#17becf"/><path d="M78.8 710.0C81.7 709.9 90.6 709.4 96.4 709.2C102.3 709.0 108.2 708.8 114.1 708.7C119.9 708.5 125.8 708.5 131.7 708.4C137.6 708.4 143.4 708.5 149.3 708.5C155.2 708.6 161.1 708.8 166.9 708.9C172.8 709.1 178.7 709.3 184.6 709.5C190.4 709.6 196.3 709.8 202.2 710.0C208.1 710.1 213.9 710.3 219.8 710.3C225.7 710.4 231.6 710.4 237.5 710.2C243.3 710.1 249.2 709.9 255.1 709.6C261.0 709.2 265.8 709.3 272.7 708.1C279.6 706.9 292.6 703.3 296.6 702.4" stroke="#1f77b4"/><path d="M79.0 686.0C90.8 686.1 124.8 686.8 150.0 686.5C175.2 686.2 211.7 684.9 230.0 684.5C248.3 684.1 250.0 683.8 260.0 684.0C270.0 684.2 278.3 685.0 290.0 686.0C301.7 687.0 318.3 688.3 330.0 690.0C341.7 691.7 350.8 693.9 360.0 696.0C369.2 698.1 380.8 701.3 385.0 702.4" stroke="#ff7f0e"/><path d="M78.8 695.9C81.7 696.0 90.6 696.1 96.4 696.2C102.3 696.2 108.2 696.3 114.1 696.4C119.9 696.5 125.8 696.6 131.7 696.6C137.6 696.7 143.4 696.8 149.3 696.9C155.2 696.9 161.1 697.0 166.9 697.1C172.8 697.2 178.7 697.2 184.6 697.3C190.4 697.4 196.3 697.4 202.2 697.5C208.1 697.6 213.9 697.7 219.8 697.7C225.7 697.8 231.6 697.9 237.5 698.0C243.3 698.1 249.2 698.2 255.1 698.3C261.0 698.4 266.8 698.6 272.7 698.8C278.6 698.9 284.5 699.1 290.3 699.4C296.2 699.7 302.3 699.9 308.0 700.4C313.7 700.9 321.8 702.1 324.6 702.4" stroke="#2ca02c"/><path d="M78.8 696.7C81.7 696.7 90.6 696.8 96.4 696.9C102.3 697.0 108.2 697.1 114.1 697.3C119.9 697.4 125.8 697.5 131.7 697.7C137.6 697.8 143.4 698.0 149.3 698.1C155.2 698.3 161.1 698.4 166.9 698.6C172.8 698.7 178.7 698.9 184.6 699.1C190.4 699.2 196.3 699.4 202.2 699.5C208.1 699.6 213.9 699.8 219.8 699.9C225.7 700.0 231.6 700.1 237.5 700.3C243.3 700.4 249.2 700.5 255.1 700.6C261.0 700.7 266.8 700.8 272.7 700.9C278.6 701.0 284.0 701.1 290.3 701.3C296.7 701.6 307.4 702.2 310.8 702.4" stroke="#d62728"/><path d="M78.8 703.4C81.7 703.2 90.6 702.9 96.4 702.7C102.3 702.5 108.2 702.3 114.1 702.1C119.9 701.9 125.8 701.7 131.7 701.6C137.6 701.5 143.4 701.4 149.3 701.3C155.2 701.2 161.1 701.2 166.9 701.1C172.8 701.1 178.7 701.1 184.6 701.2C190.4 701.2 196.3 701.3 202.2 701.4C208.1 701.5 213.9 701.6 219.8 701.7C225.7 701.9 231.6 702.1 237.5 702.2C243.3 702.4 249.2 702.6 255.1 702.7C261.0 702.9 266.8 703.0 272.7 703.1C278.6 703.2 285.2 703.4 290.3 703.3C295.5 703.2 301.4 702.6 303.6 702.4" stroke="#9467bd"/><path d="M78.8 689.0C81.7 689.1 90.6 689.2 96.4 689.3C102.3 689.3 108.2 689.4 114.1 689.4C119.9 689.5 125.8 689.5 131.7 689.6C137.6 689.6 143.4 689.7 149.3 689.7C155.2 689.8 161.1 689.8 166.9 689.8C172.8 689.9 178.7 689.9 184.6 689.9C190.4 690.0 196.3 690.0 202.2 690.0C208.1 690.1 213.9 690.1 219.8 690.2C225.7 690.3 231.6 690.4 237.5 690.5C243.3 690.6 249.2 690.7 255.1 690.9C261.0 691.1 266.8 691.3 272.7 691.7C278.6 692.0 284.5 692.3 290.3 692.9C296.2 693.5 302.1 693.5 308.0 695.1C313.8 696.7 322.5 701.2 325.4 702.4" stroke="#8c564b"/><path d="M78.8 707.3C81.7 707.3 90.6 707.3 96.4 707.2C102.3 707.2 108.2 707.3 114.1 707.3C119.9 707.4 125.8 707.4 131.7 707.5C137.6 707.6 143.4 707.6 149.3 707.7C155.2 707.7 161.1 707.8 166.9 707.8C172.8 707.8 178.7 707.8 184.6 707.7C190.4 707.6 196.3 707.4 202.2 707.2C208.1 707.0 213.9 706.7 219.8 706.4C225.7 706.0 232.0 705.7 237.5 705.0C242.9 704.4 250.0 702.8 252.5 702.4" stroke="#e377c2"/><path d="M78.8 696.8C81.7 696.8 90.6 696.7 96.4 696.6C102.3 696.6 108.2 696.6 114.1 696.6C119.9 696.7 125.8 696.7 131.7 696.8C137.6 696.9 143.4 697.0 149.3 697.2C155.2 697.3 161.1 697.5 166.9 697.7C172.8 697.9 178.7 698.1 184.6 698.3C190.4 698.5 196.3 698.8 202.2 699.0C208.1 699.2 213.9 699.5 219.8 699.7C225.7 699.9 231.6 700.1 237.5 700.4C243.3 700.6 248.8 700.7 255.1 701.1C261.3 701.4 271.6 702.2 274.9 702.4" stroke="#7f7f7f"/><path d="M78.8 703.8C81.7 704.0 90.6 704.5 96.4 704.7C102.3 704.8 108.2 704.8 114.1 704.7C119.9 704.6 125.8 704.3 131.7 704.0C137.6 703.7 143.4 703.2 149.3 702.7C155.2 702.2 161.1 701.7 166.9 701.3C172.8 700.8 178.7 700.4 184.6 700.1C190.4 699.9 196.3 699.7 202.2 699.7C208.1 699.6 213.9 699.8 219.8 700.0C225.7 700.2 231.6 700.5 237.5 700.9C243.3 701.2 249.2 701.7 255.1 702.0C261.0 702.2 268.2 702.6 272.7 702.6C277.2 702.7 280.5 702.4 282.1 702.4" stroke="#bcbd22"/><path d="M78.8 689.3C81.7 689.4 90.6 689.6 96.4 689.8C102.3 690.0 108.2 690.2 114.1 690.5C119.9 690.7 125.8 691.0 131.7 691.3C137.6 691.6 143.4 691.9 149.3 692.2C155.2 692.5 161.1 692.9 166.9 693.2C172.8 693.5 178.7 693.8 184.6 694.1C190.4 694.4 196.3 694.7 202.2 694.9C208.1 695.2 213.9 695.5 219.8 695.7C225.7 695.9 231.6 696.1 237.5 696.3C243.3 696.5 249.2 696.6 255.1 696.8C261.0 697.0 266.8 697.1 272.7 697.3C278.6 697.5 284.5 697.7 290.3 698.0C296.2 698.2 301.5 698.3 308.0 699.0C314.4 699.8 325.6 701.8 329.1 702.4" stroke="#17becf"/><path d="M78.8 714.2C81.7 714.1 90.6 713.8 96.4 713.6C102.3 713.5 108.2 713.3 114.1 713.2C119.9 713.1 125.8 713.1 131.7 713.1C137.6 713.0 143.4 713.0 149.3 713.1C155.2 713.1 161.1 713.1 166.9 713.2C172.8 713.2 178.7 713.3 184.6 713.3C190.4 713.3 196.3 713.3 202.2 713.2C208.1 713.1 213.9 713.0 219.8 712.8C225.7 712.5 231.6 712.2 237.5 711.7C243.3 711.2 249.2 710.7 255.1 709.8C261.0 708.8 268.0 707.5 272.7 706.3C277.4 705.1 281.7 703.0 283.5 702.4" stroke="#1f77b4"/><path d="M78.8 707.3C81.7 707.5 90.6 708.3 96.4 708.8C102.3 709.3 108.2 709.8 114.1 710.2C119.9 710.5 125.8 710.9 131.7 711.0C137.6 711.1 143.4 711.1 149.3 710.9C155.2 710.7 161.1 710.4 166.9 710.0C172.8 709.6 178.7 709.0 184.6 708.4C190.4 707.9 196.3 707.3 202.2 706.8C208.1 706.3 213.9 705.8 219.8 705.4C225.7 705.1 231.6 704.9 237.5 704.6C243.3 704.4 250.8 704.4 255.1 704.1C259.3 703.7 261.7 702.7 263.0 702.4" stroke="#ff7f0e"/><path d="M79.0 703.8C90.8 703.8 124.8 704.0 150.0 704.0C175.2 704.0 206.7 703.7 230.0 703.5C253.3 703.3 276.7 703.2 290.0 703.0C303.3 702.8 306.7 702.5 310.0 702.4" stroke="#2ca02c"/><path d="M78.8 685.4C81.7 685.5 90.6 685.5 96.4 685.5C102.3 685.6 108.2 685.6 114.1 685.7C119.9 685.7 125.8 685.8 131.7 685.8C137.6 685.9 143.4 686.0 149.3 686.1C155.2 686.2 161.1 686.2 166.9 686.4C172.8 686.5 178.7 686.6 184.6 686.8C190.4 686.9 196.3 687.1 202.2 687.3C208.1 687.5 213.9 687.7 219.8 687.9C225.7 688.2 231.6 688.5 237.5 688.8C243.3 689.2 249.2 689.6 255.1 690.1C261.0 690.6 266.8 691.1 272.7 691.8C278.6 692.5 283.3 692.5 290.3 694.3C297.3 696.1 310.7 701.1 314.8 702.4" stroke="#d62728"/><path d="M78.8 714.1C81.7 714.1 90.6 714.1 96.4 714.0C102.3 713.9 108.2 713.8 114.1 713.7C119.9 713.6 125.8 713.4 131.7 713.3C137.6 713.1 143.4 712.9 149.3 712.7C155.2 712.5 161.1 712.3 166.9 712.1C172.8 711.9 178.7 711.7 184.6 711.5C190.4 711.3 196.3 711.1 202.2 711.0C208.1 710.8 213.9 710.6 219.8 710.5C225.7 710.3 231.6 710.2 237.5 710.1C243.3 710.0 249.2 709.9 255.1 709.8C261.0 709.7 266.8 709.7 272.7 709.6C278.6 709.5 284.5 709.4 290.3 709.3C296.2 709.2 302.1 709.1 308.0 708.9C313.8 708.6 319.8 708.9 325.6 707.8C331.4 706.7 339.8 703.3 342.7 702.4" stroke="#9467bd"/><path d="M78.8 705.8C81.7 705.8 90.6 705.6 96.4 705.6C102.3 705.5 108.2 705.5 114.1 705.5C119.9 705.4 125.8 705.4 131.7 705.4C137.6 705.4 143.4 705.4 149.3 705.4C155.2 705.4 161.1 705.4 166.9 705.4C172.8 705.4 178.7 705.5 184.6 705.5C190.4 705.4 196.3 705.4 202.2 705.4C208.1 705.3 213.9 705.3 219.8 705.1C225.7 705.0 232.0 705.0 237.5 704.6C242.9 704.1 249.9 702.8 252.3 702.4" stroke="#8c564b"/><path d="M78.8 699.6C81.7 699.6 90.6 699.6 96.4 699.6C102.3 699.6 108.2 699.7 114.1 699.8C119.9 699.9 125.8 700.0 131.7 700.1C137.6 700.2 143.4 700.4 149.3 700.5C155.2 700.6 161.1 700.7 166.9 700.8C172.8 700.8 178.7 700.9 184.6 700.9C190.4 701.0 196.3 701.0 202.2 701.0C208.1 701.0 213.9 700.9 219.8 700.9C225.7 700.9 231.6 700.8 237.5 700.8C243.3 700.8 249.2 700.7 255.1 700.8C261.0 700.9 268.4 701.0 272.7 701.3C277.0 701.5 279.6 702.2 281.0 702.4" stroke="#e377c2"/><path d="M78.8 717.1C81.7 717.0 90.6 717.0 96.4 717.0C102.3 716.9 108.2 716.9 114.1 716.9C119.9 716.8 125.8 716.8 131.7 716.8C137.6 716.7 143.4 716.7 149.3 716.7C155.2 716.6 161.1 716.6 166.9 716.5C172.8 716.5 178.7 716.5 184.6 716.4C190.4 716.4 196.3 716.3 202.2 716.3C208.1 716.2 213.9 716.2 219.8 716.1C225.7 716.0 231.6 716.0 237.5 715.9C243.3 715.8 249.2 715.7 255.1 715.6C261.0 715.4 266.8 715.3 272.7 715.1C278.6 714.9 284.5 714.7 290.3 714.4C296.2 714.2 302.1 713.9 308.0 713.4C313.8 713.0 318.8 713.5 325.6 711.7C332.4 709.9 345.0 704.0 348.9 702.4" stroke="#7f7f7f"/><path d="M78.8 708.6C81.7 708.7 90.6 709.1 96.4 709.3C102.3 709.6 108.2 709.8 114.1 710.0C119.9 710.2 125.8 710.4 131.7 710.5C137.6 710.6 143.4 710.6 149.3 710.6C155.2 710.5 161.1 710.4 166.9 710.3C172.8 710.1 178.7 709.8 184.6 709.6C190.4 709.3 196.3 708.9 202.2 708.6C208.1 708.2 213.9 707.8 219.8 707.4C225.7 707.0 231.6 706.6 237.5 706.2C243.3 705.8 249.1 705.6 255.1 704.9C261.0 704.3 270.1 702.8 273.1 702.4" stroke="#bcbd22"/><path d="M78.8 681.2C81.7 681.3 90.6 681.4 96.4 681.5C102.3 681.6 108.2 681.7 114.1 681.8C119.9 681.9 125.8 682.0 131.7 682.1C137.6 682.2 143.4 682.3 149.3 682.4C155.2 682.5 161.1 682.5 166.9 682.6C172.8 682.7 178.7 682.8 184.6 682.8C190.4 682.9 196.3 683.0 202.2 683.1C208.1 683.2 213.9 683.3 219.8 683.4C225.7 683.5 231.6 683.6 237.5 683.8C243.3 684.0 249.2 684.2 255.1 684.5C261.0 684.8 266.8 685.1 272.7 685.5C278.6 685.9 284.5 686.4 290.3 687.0C296.2 687.6 302.1 688.3 308.0 689.2C313.8 690.1 319.7 691.0 325.6 692.4C331.5 693.7 338.7 695.7 343.2 697.3C347.7 699.0 351.0 701.6 352.5 702.4" stroke="#17becf"/><path d="M78.8 695.7C81.7 695.5 90.6 695.0 96.4 694.8C102.3 694.5 108.2 694.3 114.1 694.3C119.9 694.3 125.8 694.3 131.7 694.5C137.6 694.6 143.4 694.9 149.3 695.2C155.2 695.6 161.1 696.0 166.9 696.4C172.8 696.7 178.7 697.2 184.6 697.5C190.4 697.8 196.3 698.1 202.2 698.3C208.1 698.5 213.9 698.6 219.8 698.6C225.7 698.7 231.6 698.7 237.5 698.8C243.3 699.0 250.6 699.0 255.1 699.6C259.5 700.2 262.6 701.9 264.1 702.4" stroke="#1f77b4"/><path d="M78.8 710.0C81.7 710.1 90.6 710.5 96.4 710.7C102.3 711.0 108.2 711.2 114.1 711.5C119.9 711.7 125.8 711.9 131.7 712.1C137.6 712.3 143.4 712.5 149.3 712.5C155.2 712.6 161.1 712.7 166.9 712.6C172.8 712.6 178.7 712.5 184.6 712.3C190.4 712.2 196.3 711.9 202.2 711.6C208.1 711.4 213.9 711.0 219.8 710.6C225.7 710.2 231.6 709.8 237.5 709.4C243.3 708.9 249.2 708.5 255.1 708.0C261.0 707.5 266.8 707.0 272.7 706.5C278.6 706.0 284.4 705.6 290.3 704.9C296.2 704.2 305.1 702.8 308.1 702.4" stroke="#ff7f0e"/><path d="M78.8 699.2C81.7 699.2 90.6 699.0 96.4 698.9C102.3 698.8 108.2 698.6 114.1 698.5C119.9 698.4 125.8 698.3 131.7 698.3C137.6 698.2 143.4 698.1 149.3 698.1C155.2 698.1 161.1 698.1 166.9 698.1C172.8 698.1 178.7 698.2 184.6 698.3C190.4 698.4 196.3 698.5 202.2 698.6C208.1 698.8 213.9 698.9 219.8 699.1C225.7 699.3 231.6 699.4 237.5 699.6C243.3 699.8 249.2 700.0 255.1 700.1C261.0 700.3 266.8 700.5 272.7 700.6C278.6 700.8 284.5 700.9 290.3 701.1C296.2 701.3 303.7 701.6 308.0 701.8C312.2 702.0 314.4 702.3 315.7 702.4" stroke="#2ca02c"/><path d="M78.8 709.2C81.7 709.0 90.6 708.5 96.4 708.1C102.3 707.7 108.2 707.2 114.1 706.8C119.9 706.4 125.8 706.0 131.7 705.6C137.6 705.2 143.4 704.9 149.3 704.6C155.2 704.4 161.1 704.2 166.9 704.1C172.8 703.9 178.7 703.9 184.6 704.0C190.4 704.0 196.3 704.2 202.2 704.4C208.1 704.6 213.9 704.8 219.8 705.1C225.7 705.4 231.6 705.7 237.5 706.0C243.3 706.2 249.2 706.5 255.1 706.7C261.0 706.8 266.8 707.0 272.7 706.9C278.6 706.9 283.4 707.2 290.3 706.4C297.2 705.7 310.1 703.1 314.1 702.4" stroke="#d62728"/><path d="M78.8 708.8C81.7 708.7 90.6 708.3 96.4 708.1C102.3 708.0 108.2 707.8 114.1 707.6C119.9 707.5 125.8 707.4 131.7 707.3C137.6 707.3 143.4 707.2 149.3 707.2C155.2 707.3 161.1 707.3 166.9 707.4C172.8 707.4 178.7 707.5 184.6 707.6C190.4 707.7 196.3 707.9 202.2 708.0C208.1 708.1 213.9 708.3 219.8 708.4C225.7 708.5 231.6 708.6 237.5 708.7C243.3 708.7 249.2 708.8 255.1 708.7C261.0 708.6 266.8 708.5 272.7 708.2C278.6 708.0 284.3 708.0 290.3 707.0C296.4 706.1 305.7 703.2 308.8 702.4" stroke="#9467bd"/><path d="M78.8 698.0C81.7 698.1 90.6 698.4 96.4 698.5C102.3 698.7 108.2 698.7 114.1 698.8C119.9 698.8 125.8 698.8 131.7 698.8C137.6 698.7 143.4 698.6 149.3 698.5C155.2 698.4 161.1 698.3 166.9 698.1C172.8 698.0 178.7 697.9 184.6 697.8C190.4 697.8 196.3 697.7 202.2 697.8C208.1 697.9 213.3 697.7 219.8 698.4C226.4 699.2 237.9 701.7 241.5 702.4" stroke="#8c564b"/><path d="M78.8 715.3C81.7 715.4 90.6 715.7 96.4 715.9C102.3 716.1 108.2 716.2 114.1 716.3C119.9 716.4 125.8 716.4 131.7 716.4C137.6 716.4 143.4 716.3 149.3 716.2C155.2 716.1 161.1 715.9 166.9 715.7C172.8 715.5 178.7 715.3 184.6 715.0C190.4 714.7 196.3 714.4 202.2 714.0C208.1 713.7 213.9 713.3 219.8 713.0C225.7 712.6 231.6 712.3 237.5 711.9C243.3 711.5 249.2 711.2 255.1 710.8C261.0 710.5 266.8 710.1 272.7 709.7C278.6 709.4 284.5 709.0 290.3 708.6C296.2 708.1 302.6 707.9 308.0 706.8C313.3 705.8 319.9 703.1 322.3 702.4" stroke="#e377c2"/><path d="M78.8 695.0C81.7 695.0 90.6 694.9 96.4 694.7C102.3 694.5 108.2 694.2 114.1 693.9C119.9 693.6 125.8 693.3 131.7 692.9C137.6 692.6 143.4 692.2 149.3 691.9C155.2 691.7 161.1 691.4 166.9 691.2C172.8 691.0 178.7 690.9 184.6 690.9C190.4 690.9 196.3 691.0 202.2 691.2C208.1 691.4 213.9 691.7 219.8 692.1C225.7 692.4 231.6 692.9 237.5 693.3C243.3 693.8 249.2 694.3 255.1 694.8C261.0 695.3 266.8 695.8 272.7 696.3C278.6 696.7 284.5 697.2 290.3 697.6C296.2 698.0 301.2 698.1 308.0 698.9C314.7 699.7 327.2 701.8 331.0 702.4" stroke="#7f7f7f"/><path d="M78.8 681.6C81.7 681.6 90.6 681.7 96.4 681.8C102.3 681.9 108.2 681.9 114.1 682.0C119.9 682.1 125.8 682.2 131.7 682.3C137.6 682.4 143.4 682.5 149.3 682.6C155.2 682.7 161.1 682.8 166.9 683.0C172.8 683.1 178.7 683.2 184.6 683.4C190.4 683.5 196.3 683.7 202.2 683.9C208.1 684.1 213.9 684.3 219.8 684.5C225.7 684.7 231.6 684.9 237.5 685.2C243.3 685.5 249.2 685.8 255.1 686.1C261.0 686.5 266.8 686.9 272.7 687.4C278.6 687.8 284.5 688.3 290.3 689.0C296.2 689.6 302.1 690.3 308.0 691.2C313.8 692.2 319.5 692.8 325.6 694.6C331.7 696.5 341.3 701.1 344.5 702.4" stroke="#bcbd22"/><path d="M78.8 687.9C81.7 687.9 90.6 687.7 96.4 687.7C102.3 687.6 108.2 687.5 114.1 687.4C119.9 687.3 125.8 687.3 131.7 687.2C137.6 687.2 143.4 687.1 149.3 687.1C155.2 687.1 161.1 687.1 166.9 687.2C172.8 687.2 178.7 687.3 184.6 687.4C190.4 687.5 196.3 687.7 202.2 687.9C208.1 688.0 213.9 688.3 219.8 688.5C225.7 688.8 231.6 689.1 237.5 689.4C243.3 689.8 249.2 690.2 255.1 690.6C261.0 691.1 266.8 691.5 272.7 692.2C278.6 692.9 285.1 693.1 290.3 694.8C295.6 696.5 301.8 701.1 304.2 702.4" stroke="#17becf"/><path d="M234.2 702.4H667.4" stroke="#3cc6d3" stroke-width="2"/>
</g>
<path d="M290.8 511.0V893.9" stroke="#000" stroke-width="2.1" stroke-dasharray="7.8 3.65" stroke-dashoffset="3.0" fill="none"/>
<path d="M78.8 511.0V893.9" stroke="#3a3a3a" stroke-width="1.2" fill="none"/>
<path d="M666.4 511.0V893.9" stroke="#333" stroke-width="1.4" fill="none"/>
<path d="M78.2 511.0H667.1" stroke="#333" stroke-width="1.9" fill="none"/>
<path d="M78.2 893.9H667.1" stroke="#111" stroke-width="1.8" fill="none"/>
<path d="M73 548.80H78.8" stroke="#333" stroke-width="1.2"/>
<text transform="translate(38.04 556) scale(1 1.04)" font-size="24">0.4</text>
<path d="M73 625.60H78.8" stroke="#333" stroke-width="1.2"/>
<text transform="translate(38.04 633) scale(1 1.04)" font-size="24">0.2</text>
<path d="M73 702.40H78.8" stroke="#333" stroke-width="1.2"/>
<text transform="translate(38.04 709) scale(1 1.04)" font-size="24">0.0</text>
<path d="M73 779.20H78.8" stroke="#333" stroke-width="1.2"/>
<text transform="translate(24.69 783) scale(1 1.04)" font-size="24">–0.2</text>
<path d="M73 856.00H78.8" stroke="#333" stroke-width="1.2"/>
<text transform="translate(24.69 863) scale(1 1.04)" font-size="24">–0.4</text>
<path d="M78.80 893.9v5.0M123.02 893.9v3.3M148.89 893.9v3.3M167.24 893.9v3.3M181.48 893.9v3.3M193.11 893.9v3.3M202.94 893.9v3.3M211.46 893.9v3.3M218.98 893.9v3.3M225.70 893.9v5.0M269.92 893.9v3.3M295.79 893.9v3.3M314.14 893.9v3.3M328.38 893.9v3.3M340.01 893.9v3.3M349.84 893.9v3.3M358.36 893.9v3.3M365.88 893.9v3.3M372.60 893.9v5.0M416.82 893.9v3.3M442.69 893.9v3.3M461.04 893.9v3.3M475.28 893.9v3.3M486.91 893.9v3.3M496.74 893.9v3.3M505.26 893.9v3.3M512.78 893.9v3.3M519.50 893.9v5.0M563.72 893.9v3.3M589.59 893.9v3.3M607.94 893.9v3.3M622.18 893.9v3.3M633.81 893.9v3.3M643.64 893.9v3.3M652.16 893.9v3.3M659.68 893.9v3.3M666.40 893.9v5.0" stroke="#000" stroke-width="1.2" fill="none"/>
<path d="M763 0L583 0L583 1147Q518 1085 412.5 1023Q307 961 223 930L223 1104Q374 1175 487 1276Q600 1377 647 1472L763 1472Z" transform="translate(59.40 922.3) scale(0.011719 -0.011719)"/>
<text transform="translate(72.75 922.3) scale(1 1.04)" font-size="24">0</text>
<text x="86.09" y="914.0" font-size="14">-</text>
<text transform="translate(90.75 913.0) scale(1 1.04)" font-size="14">3</text>
<path d="M763 0L583 0L583 1147Q518 1085 412.5 1023Q307 961 223 930L223 1104Q374 1175 487 1276Q600 1377 647 1472L763 1472Z" transform="translate(207.00 922.3) scale(0.011719 -0.011719)"/>
<text transform="translate(220.35 922.3) scale(1 1.04)" font-size="24">0</text>
<text x="233.69" y="914.0" font-size="14">-</text>
<text transform="translate(238.35 913.0) scale(1 1.04)" font-size="14">2</text>
<path d="M763 0L583 0L583 1147Q518 1085 412.5 1023Q307 961 223 930L223 1104Q374 1175 487 1276Q600 1377 647 1472L763 1472Z" transform="translate(352.40 922.3) scale(0.011719 -0.011719)"/>
<text transform="translate(365.75 922.3) scale(1 1.04)" font-size="24">0</text>
<text x="379.09" y="914.0" font-size="14">-</text>
<path d="M763 0L583 0L583 1147Q518 1085 412.5 1023Q307 961 223 930L223 1104Q374 1175 487 1276Q600 1377 647 1472L763 1472Z" transform="translate(383.75 913.0) scale(0.006836 -0.006836)"/>
<path d="M763 0L583 0L583 1147Q518 1085 412.5 1023Q307 961 223 930L223 1104Q374 1175 487 1276Q600 1377 647 1472L763 1472Z" transform="translate(505.40 922.3) scale(0.011719 -0.011719)"/>
<text transform="translate(518.75 922.3) scale(1 1.04)" font-size="24">0</text>
<text transform="translate(532.09 913.0) scale(1 1.04)" font-size="14">0</text>
<path d="M763 0L583 0L583 1147Q518 1085 412.5 1023Q307 961 223 930L223 1104Q374 1175 487 1276Q600 1377 647 1472L763 1472Z" transform="translate(650.90 922.3) scale(0.011719 -0.011719)"/>
<text transform="translate(664.25 922.3) scale(1 1.04)" font-size="24">0</text>
<path d="M763 0L583 0L583 1147Q518 1085 412.5 1023Q307 961 223 930L223 1104Q374 1175 487 1276Q600 1377 647 1472L763 1472Z" transform="translate(677.59 913.0) scale(0.006836 -0.006836)"/>
<text x="373" y="946" font-size="23.5" text-anchor="middle">Lambda</text>
<text transform="translate(20.4 701.9) rotate(-90)" x="0" y="0" font-size="23.5" text-anchor="middle">Coefficients</text>
<text x="0.07" y="499" font-size="23">(</text><text x="8.0" y="499" font-size="23" font-weight="bold">b</text><text x="24.06" y="499" font-size="23">)</text>
</svg>
</body></html>
